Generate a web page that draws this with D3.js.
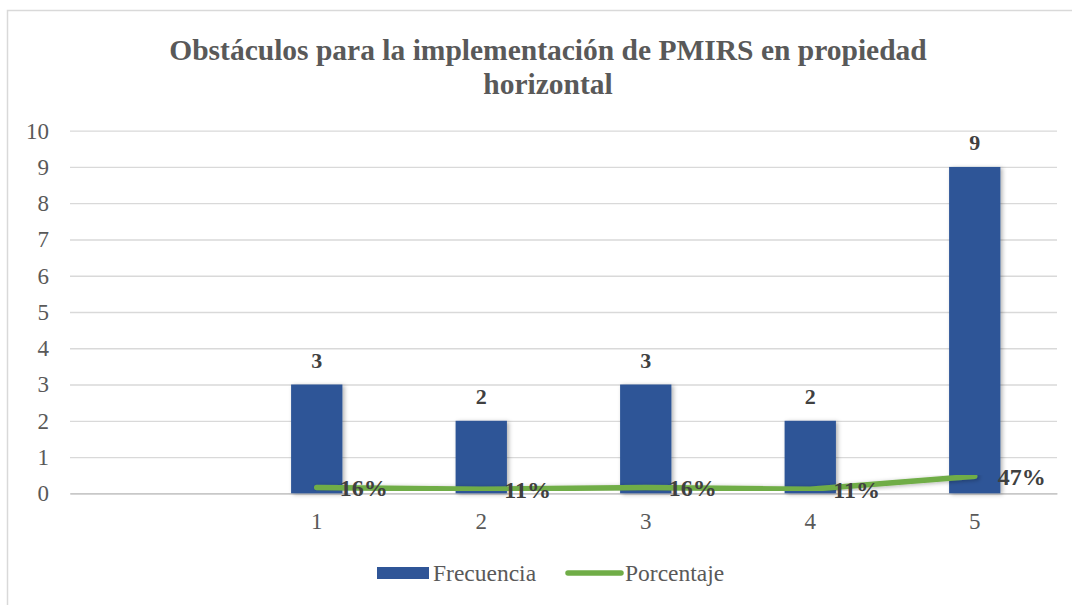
<!DOCTYPE html>
<meta charset="utf-8">
<style>
  body { margin: 0; background: #fff; }
</style>
<svg width="1072" height="605"></svg>
<script src="https://d3js.org/d3.v7.min.js"></script>
<script>
  // data
  var categories = ["", "1", "2", "3", "4", "5"]
  var frecuencia = [null, 3, 2, 3, 2, 9]
  var porcentaje = [null, 0.16, 0.11, 0.16, 0.11, 0.47]
  var pctLabels = ["", "16%", "11%", "16%", "11%", "47%"]
  var yTicks = [0, 1, 2, 3, 4, 5, 6, 7, 8, 9, 10]

  var svg = d3.select("svg")
  var blue = "#2F5597", green = "#70AD47", grey = "#595959"
  var serif = "Liberation Serif"

  // chart area border (right/bottom fall off the picture)
  svg.append("rect")
    .attr("x", 7.5).attr("y", 10.5)
    .attr("width", 1080).attr("height", 620)
    .attr("fill", "none").attr("stroke", "#d9d9d9").attr("stroke-width", 1.5)

  var defs = svg.append("defs")
  var f = defs.append("filter").attr("id", "shadow")
    .attr("x", "-20%").attr("y", "-5%").attr("width", "150%").attr("height", "115%")
  f.append("feDropShadow").attr("dx", 2).attr("dy", 1).attr("stdDeviation", 2)
    .attr("flood-color", "#000").attr("flood-opacity", 0.3)

  // title
  var title = svg.append("text")
    .attr("text-anchor", "middle")
    .attr("fill", grey)
    .style("font-family", serif)
    .style("font-size", "29.5px").style("font-weight", "bold")
  title.append("tspan").attr("x", 548).attr("y", 60).text("Obstáculos para la implementación de PMIRS en propiedad")
  title.append("tspan").attr("x", 548).attr("y", 94).text("horizontal")

  var x = d3.scaleBand().domain(categories).range([70, 1057]).padding(0)
  var y = d3.scaleLinear().domain([0, 10]).range([493.3, 130.7])

  // grid + y axis
  svg.append("g")
    .attr("transform", "translate(70,0)")
    .call(d3.axisLeft(y).tickValues(yTicks).tickSize(-987).tickPadding(20))
    .call(g => g.select(".domain").remove())
    .call(g => g.selectAll(".tick line").attr("stroke", "#d9d9d9").attr("stroke-width", 1.3))
    .call(g => g.selectAll(".tick text").attr("x", -21).attr("fill", grey)
      .style("font-family", serif).style("font-size", "23px"))

  // x axis
  svg.append("g")
    .attr("transform", "translate(0," + y(0) + ")")
    .call(d3.axisBottom(x).tickSize(0).tickPadding(19))
    .call(g => g.select(".domain").attr("stroke", "#bfbfbf").attr("stroke-width", 1.3))
    .call(g => g.selectAll(".tick text").attr("fill", grey)
      .style("font-family", serif).style("font-size", "23px"))

  var barW = x.bandwidth() * 0.312
  var idx = d3.range(categories.length).filter(i => frecuencia[i] != null)

  svg.append("g").selectAll("rect")
    .data(idx)
    .enter().append("rect")
    .attr("x", i => x(categories[i]) + x.bandwidth() / 2 - barW / 2)
    .attr("y", i => y(frecuencia[i]))
    .attr("width", barW)
    .attr("height", i => y(0) - y(frecuencia[i]))
    .attr("fill", blue)
    .attr("filter", "url(#shadow)")

  svg.append("g").selectAll("text")
    .data(idx)
    .enter().append("text")
    .attr("x", i => x(categories[i]) + x.bandwidth() / 2)
    .attr("y", i => y(frecuencia[i]) - 17)
    .attr("text-anchor", "middle")
    .attr("fill", "#404040")
    .style("font-family", serif)
    .style("font-size", "22px").style("font-weight", "bold")
    .text(i => frecuencia[i])

  var line = d3.line()
    .x(i => x(categories[i]) + x.bandwidth() / 2)
    .y(i => y(porcentaje[i]))

  svg.append("path")
    .datum(idx)
    .attr("d", line)
    .attr("fill", "none")
    .attr("stroke", green)
    .attr("stroke-width", 5.5)
    .attr("stroke-linecap", "round")
    .attr("stroke-linejoin", "round")
    .attr("filter", "url(#shadow)")

  svg.append("g").selectAll("text")
    .data(idx)
    .enter().append("text")
    .attr("x", i => x(categories[i]) + x.bandwidth() / 2 + 23)
    .attr("y", i => y(porcentaje[i]) + 9)
    .attr("fill", "#404040")
    .style("font-family", serif)
    .style("font-size", "24px").style("font-weight", "bold")
    .text(i => pctLabels[i])

  // legend
  var leg = svg.append("g")
  leg.append("rect").attr("x", 377).attr("y", 567).attr("width", 52).attr("height", 12).attr("fill", blue)
  leg.append("text").attr("x", 433).attr("y", 581).attr("fill", grey)
    .style("font-family", serif).style("font-size", "23.5px").text("Frecuencia")
  leg.append("line").attr("x1", 568).attr("x2", 621).attr("y1", 573).attr("y2", 573)
    .attr("stroke", green).attr("stroke-width", 5.5).attr("stroke-linecap", "round")
  leg.append("text").attr("x", 625).attr("y", 581).attr("fill", grey)
    .style("font-family", serif).style("font-size", "23.5px").text("Porcentaje")
</script>
